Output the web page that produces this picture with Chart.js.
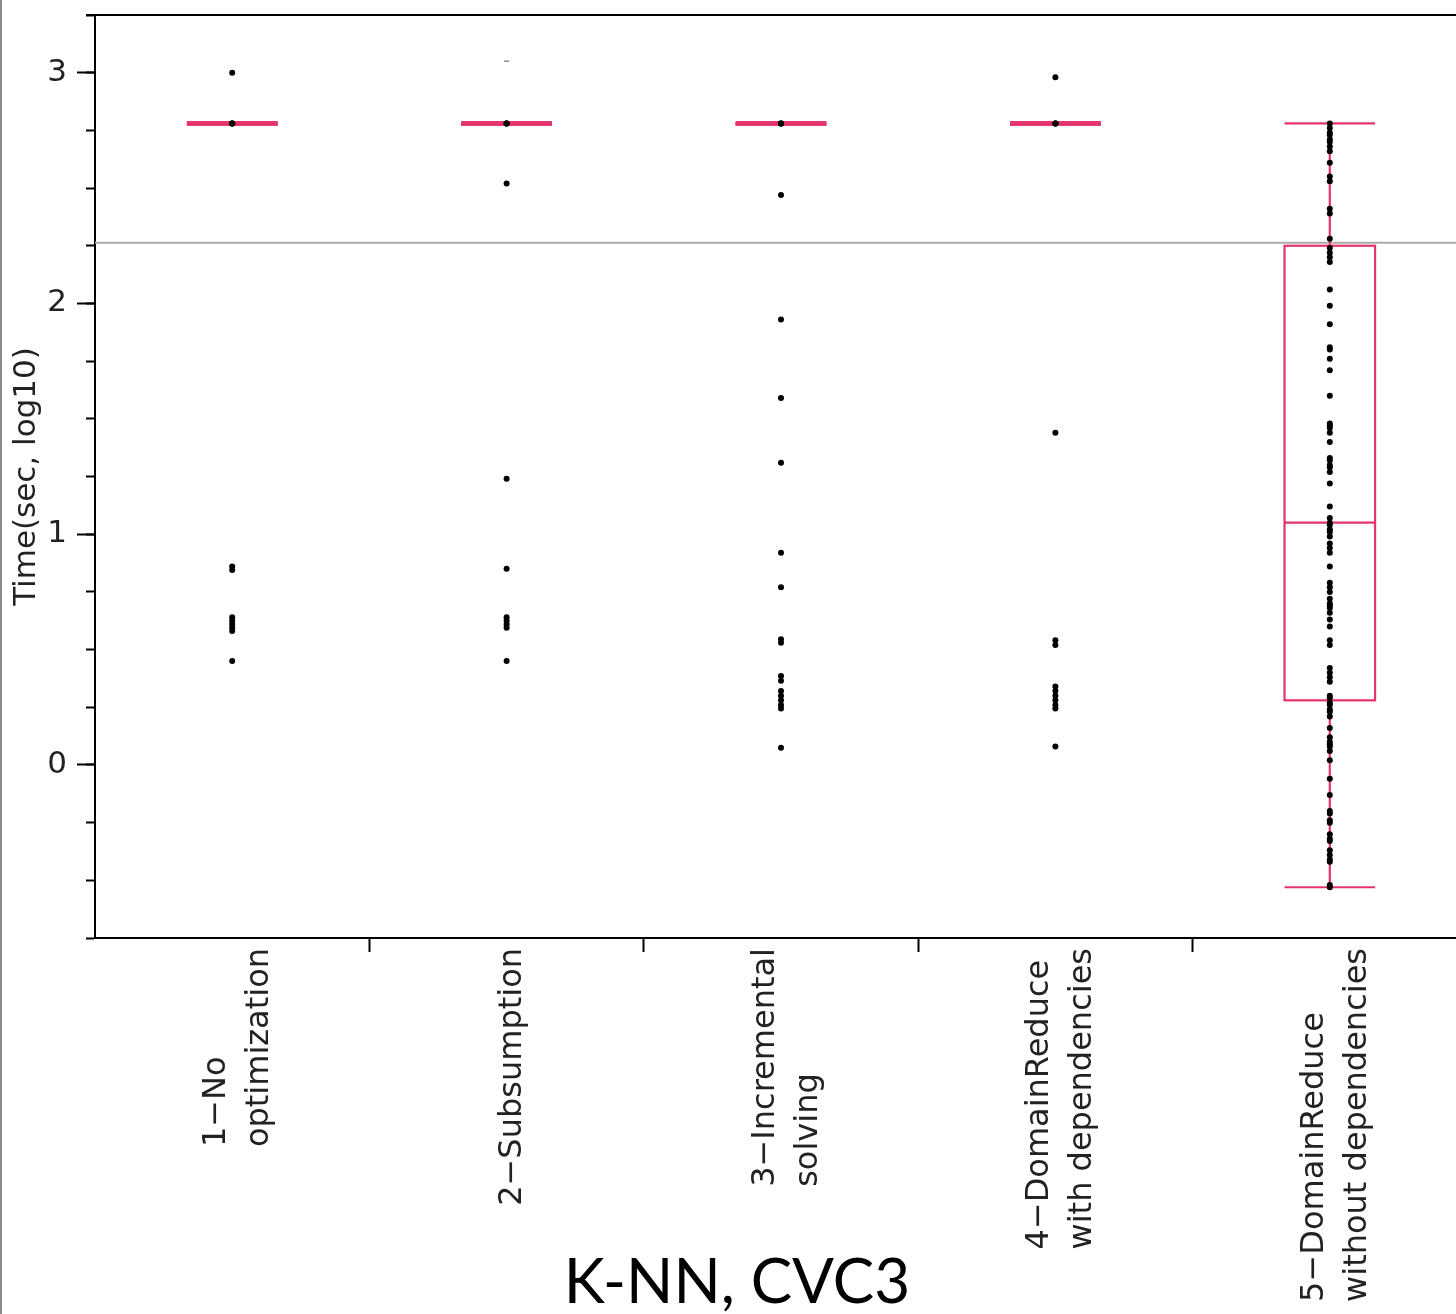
<!DOCTYPE html>
<html>
<head>
<meta charset="utf-8">
<script src="https://cdn.jsdelivr.net/npm/chart.js"></script>
<style>
  html, body { margin: 0; padding: 0; background: #fff; }
  body { width: 1456px; height: 1314px; overflow: hidden; box-sizing: border-box; border-left: 2px solid #8c8c8c; }
  canvas { display: block; }
</style>
</head>
<body>
<canvas id="chart" width="1470" height="1314"></canvas>
<script>
// categories (multi-line, rotated under the axis)
const categories = [
    ['1−No', 'optimization'],
    ['2−Subsumption'],
    ['3−Incremental', 'solving'],
    ['4−DomainReduce', 'with dependencies'],
    ['5−DomainReduce', 'without dependencies']
];

// Time(sec, log10) of every run, one array per configuration
const times1 = [3.0, 2.78, 2.78, 2.78, 0.86, 0.845, 0.64, 0.625, 0.61, 0.595, 0.58, 0.45];
const times2 = [2.78, 2.78, 2.78, 2.52, 1.24, 0.85, 0.64, 0.625, 0.61, 0.595, 0.45];
const times2Clipped = [3.05];
const times3 = [2.78, 2.78, 2.78, 2.47, 1.93, 1.59, 1.31, 0.92, 0.77, 0.545, 0.53, 0.385, 0.365, 0.32, 0.30, 0.28, 0.26, 0.245, 0.075];
const times4 = [2.98, 2.78, 2.78, 2.78, 1.44, 0.54, 0.52, 0.34, 0.32, 0.30, 0.28, 0.26, 0.245, 0.08];
const times5 = [2.78, 2.76, 2.74, 2.73, 2.71, 2.70, 2.68, 2.66, 2.61, 2.55, 2.53, 2.41, 2.39, 2.28, 2.24,
    2.22, 2.20, 2.18, 2.06, 1.99, 1.91, 1.81, 1.80, 1.76, 1.71, 1.60, 1.48, 1.47, 1.46, 1.44, 1.40,
    1.33, 1.32, 1.30, 1.29, 1.27, 1.22, 1.12, 1.07, 1.05, 1.04, 1.02, 1.01, 0.99, 0.96, 0.94, 0.92,
    0.86, 0.79, 0.77, 0.75, 0.72, 0.70, 0.69, 0.68, 0.66, 0.63, 0.60, 0.54, 0.52, 0.42, 0.40, 0.38,
    0.36, 0.30, 0.29, 0.27, 0.26, 0.24, 0.23, 0.21, 0.16, 0.12, 0.10, 0.09, 0.08, 0.06, 0.02, -0.06,
    -0.13, -0.20, -0.21, -0.24, -0.25, -0.30, -0.32, -0.33, -0.37, -0.39, -0.41, -0.42, -0.52, -0.53];

// box plot summaries
const whiskerLow  = [2.78, 2.78, 2.78, 2.78, -0.53];
const boxQ1       = [2.78, 2.78, 2.78, 2.78, 0.28];
const boxMedian   = [2.78, 2.78, 2.78, 2.78, 1.05];
const boxQ3       = [2.78, 2.78, 2.78, 2.78, 2.25];
const whiskerHigh = [2.78, 2.78, 2.78, 2.78, 2.78];
const grandMean = 2.263;

// y axis
const yTickValues = [0, 1, 2, 3];
const yMin = -0.75, yMax = 3.25;

const pink = '#e5336b';
const boxWidth = 0.33;
const allTimes = [times1, times2, times3, times4, times5];

const points = [];
allTimes.forEach((arr, i) => arr.forEach(v => points.push({ x: i + 1, y: v })));
const clippedPoints = times2Clipped.map(v => ({ x: 2, y: v }));

// box plots + grand mean line, drawn under the points
const boxPlot = {
    id: 'boxPlot',
    beforeDatasetsDraw(chart) {
        const { ctx, chartArea, scales: { x, y } } = chart;
        ctx.save();
        ctx.strokeStyle = '#aaaaaa';
        ctx.lineWidth = 2;
        const gy = y.getPixelForValue(grandMean);
        ctx.beginPath();
        ctx.moveTo(chartArea.left, gy);
        ctx.lineTo(chartArea.right, gy);
        ctx.stroke();

        ctx.strokeStyle = pink;
        categories.forEach((c, i) => {
            const cx = x.getPixelForValue(i + 1);
            const x0 = x.getPixelForValue(i + 1 - boxWidth / 2);
            const x1 = x.getPixelForValue(i + 1 + boxWidth / 2);
            const collapsed = boxQ1[i] === boxQ3[i];
            ctx.lineWidth = collapsed ? 4 : 2.2;
            const hline = v => {
                const py = y.getPixelForValue(v);
                ctx.beginPath(); ctx.moveTo(x0, py); ctx.lineTo(x1, py); ctx.stroke();
            };
            // whiskers
            ctx.beginPath();
            ctx.moveTo(cx, y.getPixelForValue(whiskerLow[i]));
            ctx.lineTo(cx, y.getPixelForValue(boxQ1[i]));
            ctx.moveTo(cx, y.getPixelForValue(boxQ3[i]));
            ctx.lineTo(cx, y.getPixelForValue(whiskerHigh[i]));
            ctx.stroke();
            hline(whiskerLow[i]);
            hline(whiskerHigh[i]);
            // box
            const top = y.getPixelForValue(boxQ3[i]);
            const bot = y.getPixelForValue(boxQ1[i]);
            ctx.strokeRect(x0, top, x1 - x0, bot - top);
            hline(boxMedian[i]);
        });
        ctx.restore();
    },
    afterDraw(chart) {
        // top frame line
        const { ctx, chartArea } = chart;
        ctx.save();
        ctx.strokeStyle = '#000';
        ctx.lineWidth = 2;
        ctx.beginPath();
        ctx.moveTo(chartArea.left - 9, chartArea.top);
        ctx.lineTo(chart.width, chartArea.top);
        ctx.stroke();
        ctx.restore();
    }
};

// rotated category labels, lines start-aligned at the bottom
const categoryLabels = {
    id: 'categoryLabels',
    afterDraw(chart) {
        const { ctx, scales: { x } } = chart;
        ctx.save();
        ctx.font = '32px "DejaVu Sans"';
        ctx.fillStyle = '#222';
        ctx.textAlign = 'left';
        ctx.textBaseline = 'middle';
        const lineH = 43, top = x.top + 10;
        categories.forEach((lines, i) => {
            const cx = x.getPixelForValue(i + 1) + 6;
            const w = Math.max(...lines.map(l => ctx.measureText(l).width));
            lines.forEach((line, j) => {
                const lx = cx + (j - (lines.length - 1) / 2) * lineH;
                ctx.save();
                ctx.translate(lx, top + w);
                ctx.rotate(-Math.PI / 2);
                ctx.fillText(line, 0, 0);
                ctx.restore();
            });
        });
        ctx.restore();
    }
};

Chart.defaults.font.family = '"DejaVu Sans"';
Chart.defaults.color = '#222';

new Chart(document.getElementById('chart'), {
    type: 'scatter',
    data: {
        datasets: [{
            data: points,
            backgroundColor: '#000',
            borderWidth: 0,
            pointRadius: 3
        }, {
            data: clippedPoints,
            pointStyle: 'line',
            borderColor: '#555',
            borderWidth: 1,
            pointRadius: 2.5
        }]
    },
    options: {
        responsive: false,
        animation: false,
        layout: { padding: { top: 15, right: 0, bottom: 0, left: 0 } },
        plugins: {
            legend: { display: false },
            tooltip: { enabled: false },
            title: {
                display: true,
                position: 'bottom',
                text: 'K-NN, CVC3',
                color: '#000',
                font: { family: 'Lato', size: 62, weight: 'normal', lineHeight: 1 },
                padding: 0
            }
        },
        scales: {
            x: {
                type: 'linear',
                min: 0.5,
                max: categories.length + 0.5,
                afterBuildTicks: s => { s.ticks = categories.slice(1).map((c, i) => ({ value: i + 1.5 })); },
                afterFit: s => { s.height = 314; s.paddingLeft = 0; s.paddingRight = 0; },
                ticks: { display: false },
                grid: { drawOnChartArea: false, tickLength: 14, tickWidth: 2, tickColor: '#000' },
                border: { color: '#000', width: 2 }
            },
            y: {
                position: 'left',
                weight: 1,
                min: yMin,
                max: yMax,
                afterBuildTicks: s => { s.ticks = yTickValues.map(v => ({ value: v })); },
                afterFit: s => { s.width = 93; s.paddingTop = 0; s.paddingBottom = 0; },
                ticks: { padding: 10, font: { size: 31 }, color: '#222', callback: v => String(v) },
                grid: { drawOnChartArea: false, tickLength: 18, tickWidth: 2, tickColor: '#000' },
                border: { display: false },
                title: { display: true, text: 'Time(sec, log10)', font: { size: 31 }, color: '#222', padding: { top: 6 } }
            },
            yMinor: {
                position: 'left',
                weight: 0,
                min: yMin,
                max: yMax,
                ticks: { display: false, stepSize: 0.25 },
                afterFit: s => { s.width = 0; s.paddingTop = 0; s.paddingBottom = 0; },
                grid: { drawOnChartArea: false, tickLength: 9, tickWidth: 2, tickColor: '#000' },
                border: { color: '#000', width: 2 }
            }
        }
    },
    plugins: [boxPlot, categoryLabels]
});
</script>
</body>
</html>
